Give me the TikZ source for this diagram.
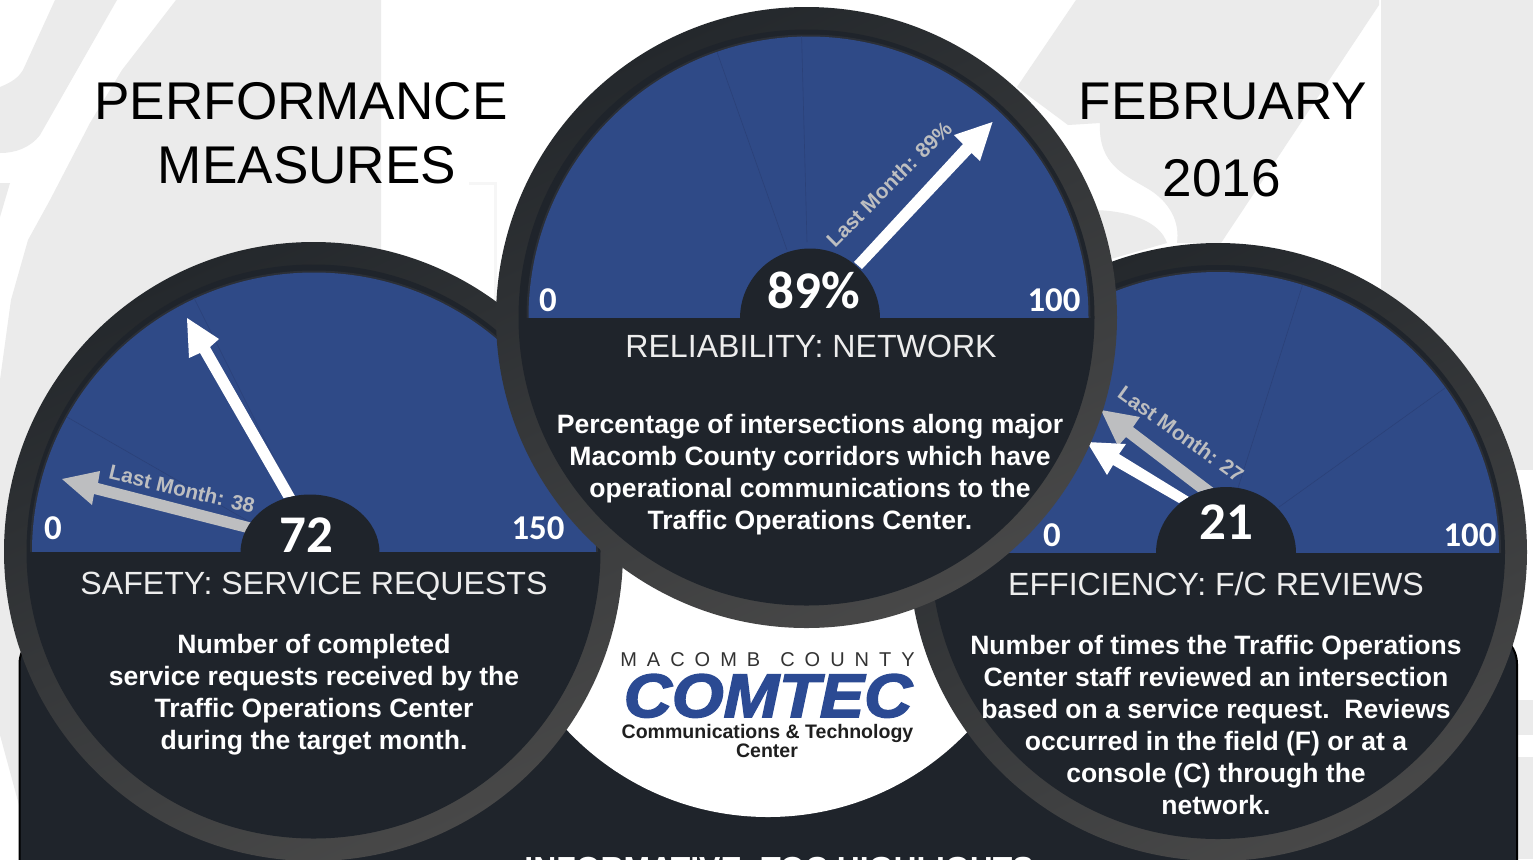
\documentclass[tikz,border=0pt]{standalone}
\usepackage{fontspec}
\setmainfont{Liberation Sans}
\newfontfamily\carl{Carlito}
\newfontfamily\logofont[FakeBold=2.5]{Liberation Sans Bold Italic}
\definecolor{wm}{HTML}{EBEBEB}
\definecolor{panel}{HTML}{1F242B}
\definecolor{face}{HTML}{2F4A87}
\definecolor{tick}{HTML}{2B4178}
\definecolor{ghost}{HTML}{BDBEC0}
\definecolor{logoblue}{HTML}{2B4A93}
\newcommand\ringdisc[7]{% cx cy r inner fcx frx fry
  \shade[top color=ringa,bottom color=ringb,shading angle=25] (#1,#2) circle [radius=#3];
  \fill[panel] (#1,#2) circle [radius=#4];
  \begin{scope}
    \clip (#5-420,#2-420) rectangle (#5+420,#2);
    \fill[rimline] (#5,#2) ellipse [x radius=#6+2,y radius=#7+2];
    \fill[face] (#5,#2) ellipse [x radius=#6,y radius=#7];
  \end{scope}}
\newcommand\hubshape[4]{% cx base rx ry
  \begin{scope}
    \clip (#1-100,#2-100) rectangle (#1+100,#2+1);
    \fill[panel] (#1,#2+1) ellipse [x radius=#3,y radius=#4+1];
  \end{scope}}
\definecolor{ringa}{HTML}{24282C}
\definecolor{ringb}{HTML}{484848}
\definecolor{rimline}{HTML}{2B2F36}
\tikzset{
  titletext/.style={font=\fontsize{26.55}{30}\selectfont,text=black,inner sep=0pt,anchor=base},
  gaugetitle/.style={font=\fontsize{16.06}{19}\selectfont,text=white!93!black,inner sep=0pt,anchor=base},
  bodytext/.style={font=\bfseries\fontsize{13.28}{16}\selectfont,text=white,inner sep=0pt,align=center,anchor=center},
  scaletext/.style={font=\carl\bfseries\fontsize{17.4}{19}\selectfont,text=white,inner sep=0pt,anchor=base},
  valuetext/.style={font=\carl\bfseries\fontsize{26.5}{30}\selectfont,text=white,inner sep=0pt,anchor=base},
  lasttext/.style={font=\bfseries\fontsize{10.4}{13}\selectfont,text=ghost,inner sep=0pt,anchor=center},
  tickline/.style={draw=tick,line width=0.3pt},
  wmshape/.style={fill=wm},
}
\begin{document}
\begin{tikzpicture}[x=0.5pt,y=-0.5pt]
\useasboundingbox (0,0) rectangle (1533,859);
\clip (0,0) rectangle (1533,859);
\fill[white] (0,0) rectangle (1533,859);
% watermark
\fill[wmshape] (176,0) -- (381,0) -- (381,700) -- (19,805) -- (0,735) -- (0,380) -- (11,300) -- (28,240) -- (50,200) -- (90,123) -- (122,70) -- cycle;
\fill[wmshape] (55,0) -- (117,0) -- (40,135) .. controls (30,148) and (15,153) .. (0,153) -- (0,87) .. controls (12,82) and (18,78) .. (23,70) -- cycle;
\fill[wmshape] (0,183) -- (10,183) -- (0,217) -- cycle;
\fill[wmshape] (1076,0) -- (1379,0) -- (1379,5) -- (1221,243) -- (1177,243) .. controls (1180,222) and (1170,203) .. (1150,190) .. controls (1125,175) and (1098,165) .. (1100,123) -- (1068,125) -- (1017,87) -- cycle;
\fill[wmshape] (1090,210) .. controls (1130,210) and (1160,222) .. (1167,243) -- (1100,262) -- cycle;
\fill[wmshape] (1381,0) rectangle (1533,470);
\fill[wmshape] (1517,700) rectangle (1533,735);
\fill[wmshape] (1517,757) rectangle (1533,859);
\fill[wm!45!white] (469,182) rectangle (497,185);
\fill[wm!45!white] (494,182) rectangle (497,300);
% panel
\draw[draw=black,fill=panel,line width=1pt,rounded corners=16pt] (19.5,632) rectangle (1517,900);
\fill[white] (768,541) circle [radius=276];
% logo
\node (logoTop) [font=\fontsize{10}{12}\selectfont,text=black!80,inner sep=0pt,anchor=base] at (767.5,666) {M\hspace{5pt}A\hspace{5pt}C\hspace{5pt}O\hspace{5pt}M\hspace{5pt}B\hspace{10pt}C\hspace{5pt}O\hspace{5pt}U\hspace{5pt}N\hspace{5pt}T\hspace{5pt}Y};
\node (logoMain) [font=\logofont\fontsize{32}{34}\selectfont,text=logoblue,inner sep=0pt,anchor=base,xscale=1.04,yscale=0.96] at (768,717) {COMTEC};
\node (logoSubA) [font=\bfseries\fontsize{9.77}{12}\selectfont,text=black!88,inner sep=0pt,anchor=base] at (767.5,738) {Communications \& Technology};
\node (logoSubB) [font=\bfseries\fontsize{9.77}{12}\selectfont,text=black!88,inner sep=0pt,anchor=base] at (767,757) {Center};
% left gauge
\ringdisc{313.5}{551.5}{309.5}{287}{314}{282}{279}
\draw[tickline] (194,298) -- (295,500);
\draw[tickline] (67,417) -- (255,525);
\fill[ghost] (62,479) -- (100,471) -- (98,483) -- (253,523) -- (247,533) -- (94,494) -- (92,505) -- cycle;
\fill[white] (187,318) -- (219,339) -- (210,347) -- (295,496) -- (283.5,498) -- (200,353) -- (189,358) -- cycle;
\hubshape{310}{551.5}{69.5}{57}
\node (lastL) [lasttext,rotate=-13.5] at (182,489) {Last Month: 38};
\node (zeroL) [scaletext] at (53,539) {0};
\node (maxL) [scaletext] at (538,539) {150};
\node (valL) [valuetext] at (306,552) {72};
\node (titleL) [gaugetitle] at (314,594) {SAFETY: SERVICE REQUESTS};
\node (bodyL) [bodytext] at (314,695) {Number of completed\\service requests received by the\\Traffic Operations Center\\during the target month.};
% right gauge
\ringdisc{1218}{552}{309}{287}{1218}{281}{280}
\draw[tickline] (1302.5,285) -- (1238,488);
\draw[tickline] (1445,388) -- (1279,507);
\fill[ghost] (1101,410) -- (1140,417) -- (1133,427) -- (1213.5,488) -- (1198,492) -- (1126,437) -- (1118,446) -- cycle;
\fill[white] (1087,442) -- (1126,444) -- (1119,454) -- (1189,497) -- (1179,503) -- (1113,465) -- (1107,475) -- cycle;
\hubshape{1226}{552}{70}{65}
\node (lastR) [lasttext,rotate=-35.7] at (1181,434) {Last Month: 27};
\node (zeroR) [scaletext] at (1052,546) {0};
\node (maxR) [scaletext] at (1470,546) {100};
\node (valR) [valuetext] at (1226,539) {21};
\node (titleR) [gaugetitle] at (1216,595) {EFFICIENCY: F/C REVIEWS};
\node (bodyR) [bodytext] at (1216,725) {Number of times the Traffic Operations\\Center staff reviewed an intersection\\based on a service request.\ \ Reviews\\occurred in the field (F) or at a\\console (C) through the\\network.};
% middle gauge
\ringdisc{806.5}{317.5}{310.5}{288}{808.5}{280}{281}
\draw[tickline] (717,52) -- (787,250);
\draw[tickline] (801.6,36) -- (807,242);
\fill[white] (992.5,122) -- (980,161) -- (971.5,153) -- (862,269) -- (854,262) -- (963,144) -- (954,135) -- cycle;
\hubshape{810}{317.5}{70}{69}
\node (lastM) [lasttext,rotate=45] at (889,184) {Last Month: 89\%};
\node (zeroM) [scaletext] at (548,311) {0};
\node (maxM) [scaletext] at (1054,311) {100};
\node (valM) [valuetext] at (814,308) {89\%};
\node (titleM) [gaugetitle] at (811,357) {RELIABILITY: NETWORK};
\node (bodyM) [bodytext] at (810,475) {Percentage of intersections along major\\Macomb County corridors which have\\operational communications to the\\Traffic Operations Center.};
% titles
\node (perf) [titletext] at (301,119) {PERFORMANCE};
\node (meas) [titletext] at (307,183) {MEASURES};
\node (feb) [titletext] at (1223,119) {FEBRUARY};
\node (year) [titletext] at (1222,196) {2016};
% clipped heading
\node (info) [font=\bfseries\fontsize{15.95}{18}\selectfont,text=white,inner sep=0pt,anchor=base] at (779,879) {INFORMATIVE: TOC HIGHLIGHTS};
\end{tikzpicture}
\end{document}
